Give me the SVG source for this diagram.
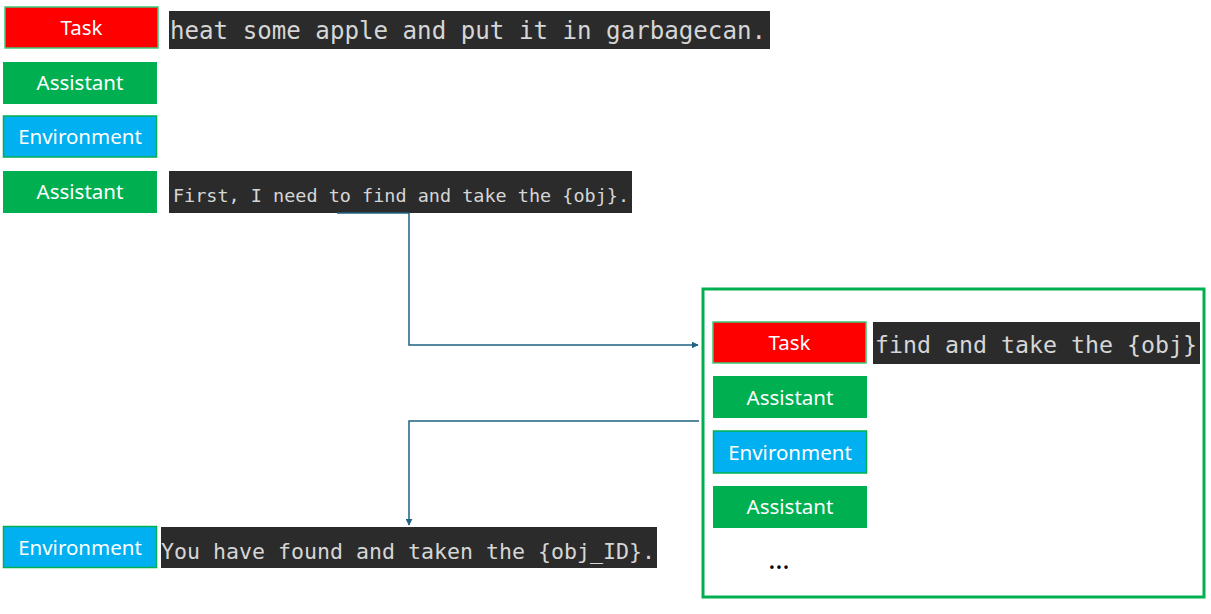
<svg xmlns="http://www.w3.org/2000/svg" width="1211" height="614" viewBox="0 0 1211 614">
<defs>
<style>
.task{fill:#FF0000;stroke:#3CC878;stroke-width:1.5}
.asst{fill:#00B050}
.env{fill:#00B0F0;stroke:#00B050;stroke-width:1.5}
.lbl{font-family:"Noto Sans","Open Sans",sans-serif;font-size:20.5px;fill:#FFFFFF;text-anchor:middle}
.code{fill:#2B2B2B}
.mono{font-family:"DejaVu Sans Mono","Liberation Mono",monospace;fill:#D6D6D6}
.conn{fill:none;stroke:#1F6283;stroke-width:1.5}
</style>
<marker id="arr" viewBox="0 0 10 10" refX="9" refY="5" markerWidth="7" markerHeight="7" orient="auto" markerUnits="userSpaceOnUse">
<path d="M0,0 L10,5 L0,10 z" fill="#1F6283"/>
</marker>
</defs>
<rect width="1211" height="614" fill="#FFFFFF"/>

<g id="task-main">
<rect class="task" x="5" y="7" width="153" height="41"/>
<text class="lbl" x="81.5" y="35">Task</text>
</g>
<g id="task-text">
<rect class="code" x="169" y="11" width="601" height="38"/>
<text class="mono" x="170" y="39" font-size="24" textLength="596" lengthAdjust="spacingAndGlyphs">heat some apple and put it in garbagecan.</text>
</g>
<g id="assistant-1">
<rect class="asst" x="3" y="62" width="154" height="42"/>
<text class="lbl" x="80" y="90">Assistant</text>
</g>
<g id="environment-1">
<rect class="env" x="3.5" y="116" width="153" height="41"/>
<text class="lbl" x="80" y="144">Environment</text>
</g>
<g id="assistant-2">
<rect class="asst" x="3" y="171" width="154" height="42"/>
<text class="lbl" x="80" y="199">Assistant</text>
</g>
<g id="assistant-2-text">
<rect class="code" x="169" y="171" width="463" height="42"/>
<text class="mono" x="173" y="202" font-size="18.5" textLength="456" lengthAdjust="spacingAndGlyphs">First, I need to find and take the {obj}.</text>
</g>

<g id="subtask-frame">
<rect x="703" y="289" width="501" height="308" fill="none" stroke="#00B050" stroke-width="3"/>
</g>
<g id="sub-task">
<rect class="task" x="713" y="322" width="153" height="41"/>
<text class="lbl" x="789.5" y="350">Task</text>
</g>
<g id="sub-task-text">
<rect class="code" x="873" y="322" width="327" height="42"/>
<text class="mono" x="875" y="353" font-size="23.3" textLength="322" lengthAdjust="spacingAndGlyphs">find and take the {obj}</text>
</g>
<g id="sub-assistant-1">
<rect class="asst" x="713" y="376" width="154" height="42"/>
<text class="lbl" x="790" y="405">Assistant</text>
</g>
<g id="sub-environment">
<rect class="env" x="713.5" y="431" width="153" height="42"/>
<text class="lbl" x="790" y="460">Environment</text>
</g>
<g id="sub-assistant-2">
<rect class="asst" x="713" y="486" width="154" height="42"/>
<text class="lbl" x="790" y="514">Assistant</text>
</g>
<g id="sub-ellipsis">
<text x="779" y="569" font-family="Noto Sans, sans-serif" font-size="27" fill="#000000" text-anchor="middle">…</text>
</g>

<g id="environment-2">
<rect class="env" x="3.5" y="526.5" width="153" height="41"/>
<text class="lbl" x="80" y="555">Environment</text>
</g>
<g id="environment-2-text">
<rect class="code" x="161" y="527" width="496" height="41"/>
<text class="mono" x="161" y="559" font-size="21.6" textLength="494" lengthAdjust="spacingAndGlyphs">You have found and taken the {obj_ID}.</text>
</g>

<g id="connectors">
<path class="conn" d="M337,213 H409 V345 H698" marker-end="url(#arr)"/>
<path class="conn" d="M699,421 H409 V525" marker-end="url(#arr)"/>
</g>
</svg>
